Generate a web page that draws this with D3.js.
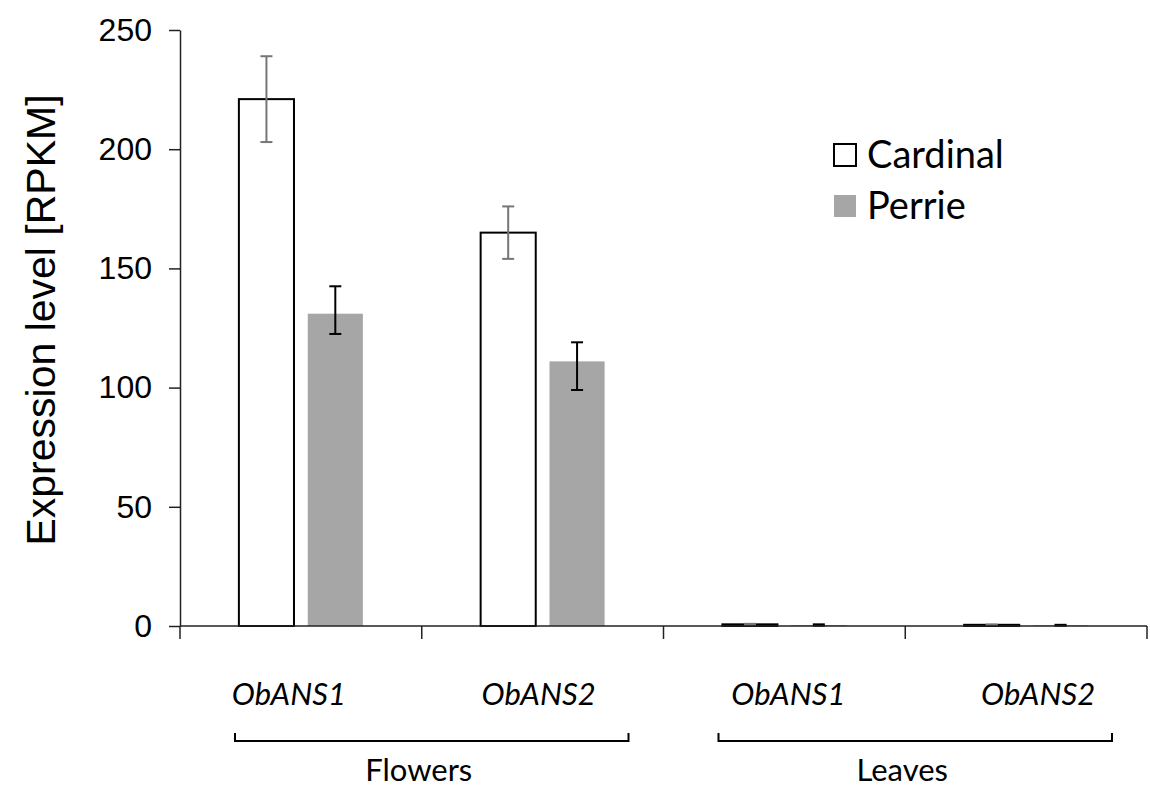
<!DOCTYPE html>
<html>
<head>
<meta charset="utf-8">
<script src="https://cdn.jsdelivr.net/npm/d3@7"></script>
<style>
  body { margin: 0; background: #fff; }
  svg { display: block; }
</style>
</head>
<body>
<div id="chart"></div>
<script>
// data
const genes = ["ObANS1", "ObANS2", "ObANS1", "ObANS2"];
const tissues = ["Flowers", "Leaves"];
const series = ["Cardinal", "Perrie"];
const cardinalValues = [221, 165, 0.7, 0.5];
const cardinalErrUp = [18, 11, 0.2, 0.1];
const cardinalErrDown = [18, 11, 0.2, 0.1];
const perrieValues = [131, 111, 0.4, 0.3];
const perrieErrUp = [11.5, 8, 0.3, 0.2];
const perrieErrDown = [8.5, 12, 0.3, 0.2];
const yTicks = [0, 50, 100, 150, 200, 250];

const width = 1150;
const height = 787;
const margin = { top: 30, right: 3, bottom: 161, left: 180 };

const svg = d3
  .select("#chart")
  .append("svg")
  .attr("width", width)
  .attr("height", height);

const y = d3
  .scaleLinear()
  .domain([0, 250])
  .range([height - margin.bottom, margin.top]);

const x = d3
  .scaleBand()
  .domain(d3.range(genes.length))
  .range([margin.left, width - margin.right]);

const xSub = d3
  .scaleBand()
  .domain(series)
  .range([0, x.bandwidth()])
  .paddingInner(0.2)
  .paddingOuter(0.855);

const color = d3.scaleOrdinal().domain(series).range(["#ffffff", "#a6a6a6"]);
const errColor = d3.scaleOrdinal().domain(series).range(["#767676", "#000000"]);

const rows = genes.map((g, i) => ({
  i: i,
  gene: g,
  vals: [
    { s: "Cardinal", v: cardinalValues[i], up: cardinalErrUp[i], down: cardinalErrDown[i] },
    { s: "Perrie", v: perrieValues[i], up: perrieErrUp[i], down: perrieErrDown[i] },
  ],
}));

// bars
const groups = svg
  .selectAll(".grp")
  .data(rows)
  .enter()
  .append("g")
  .attr("class", "grp")
  .attr("transform", (d) => "translate(" + x(d.i) + ",0)");

groups
  .selectAll("rect")
  .data((d) => d.vals)
  .enter()
  .append("rect")
  .attr("x", (d) => xSub(d.s))
  .attr("width", xSub.bandwidth())
  .attr("y", (d) => y(d.v))
  .attr("height", (d) => y(0) - y(d.v))
  .attr("fill", (d) => color(d.s))
  .attr("stroke", (d) => (d.s === "Cardinal" ? "#000" : "none"))
  .attr("stroke-width", 2);

// error bars
const err = groups
  .selectAll(".err")
  .data((d) => d.vals)
  .enter()
  .append("g")
  .attr("class", "err")
  .attr("stroke", (d) => errColor(d.s))
  .attr("stroke-width", 2)
  .attr("transform", (d) => "translate(" + (xSub(d.s) + xSub.bandwidth() / 2) + ",0)");

err
  .append("line")
  .attr("y1", (d) => y(d.v + d.up))
  .attr("y2", (d) => y(d.v - d.down));
err
  .append("line")
  .attr("x1", -6)
  .attr("x2", 6)
  .attr("y1", (d) => y(d.v + d.up))
  .attr("y2", (d) => y(d.v + d.up));
err
  .append("line")
  .attr("x1", -6)
  .attr("x2", 6)
  .attr("y1", (d) => y(d.v - d.down))
  .attr("y2", (d) => y(d.v - d.down));

// y axis
const yAxis = svg
  .append("g")
  .attr("transform", "translate(" + margin.left + ",0)")
  .call(d3.axisLeft(y).tickValues(yTicks).tickSize(11).tickSizeOuter(0).tickPadding(17));
yAxis.select(".domain").attr("stroke", "#222").attr("stroke-width", 1.5);
yAxis.selectAll(".tick line").attr("stroke", "#222").attr("stroke-width", 1.5);
yAxis
  .selectAll(".tick text")
  .attr("fill", "#000")
  .style("font-family", "'Liberation Sans', Arial, sans-serif")
  .style("font-size", "32px");

// x axis line with ticks at category boundaries
const xBounds = d3.range(genes.length + 1).map((i) => margin.left + i * x.step());
svg
  .append("line")
  .attr("x1", margin.left)
  .attr("x2", width - margin.right)
  .attr("y1", y(0))
  .attr("y2", y(0))
  .attr("stroke", "#222")
  .attr("stroke-width", 1.5);
svg
  .selectAll(".xtick")
  .data(xBounds)
  .enter()
  .append("line")
  .attr("class", "xtick")
  .attr("x1", (d) => d)
  .attr("x2", (d) => d)
  .attr("y1", y(0))
  .attr("y2", y(0) + 13)
  .attr("stroke", "#222")
  .attr("stroke-width", 1.5);

// gene labels
svg
  .selectAll(".gene")
  .data(rows)
  .enter()
  .append("text")
  .attr("class", "gene")
  .attr("x", (d) => x(d.i) + x.bandwidth() / 2 - 12 + d.i * 8)
  .attr("y", 705)
  .attr("text-anchor", "middle")
  .style("font-family", "Lato, 'Open Sans', sans-serif")
  .style("font-style", "italic")
  .style("font-size", "31px")
  .text((d) => d.gene);

// tissue brackets
tissues.forEach((t, k) => {
  const x0 = x(k * 2) + 55;
  const x1 = x(k * 2 + 1) + x.bandwidth() - 35;
  svg
    .append("path")
    .attr("d", "M" + x0 + ",733 V741 H" + x1 + " V733")
    .attr("fill", "none")
    .attr("stroke", "#000")
    .attr("stroke-width", 2);
  svg
    .append("text")
    .attr("x", (x0 + x1) / 2 - 13)
    .attr("y", 781)
    .attr("text-anchor", "middle")
    .style("font-family", "Lato, 'Open Sans', sans-serif")
    .style("font-size", "31px")
    .text(t);
});

// y title
svg
  .append("text")
  .attr("transform", "translate(55,320) rotate(-90)")
  .attr("text-anchor", "middle")
  .style("font-family", "'Liberation Sans', Arial, sans-serif")
  .style("font-size", "41px")
  .text("Expression level [RPKM]");

// legend
const legend = svg
  .selectAll(".legend")
  .data(series)
  .enter()
  .append("g")
  .attr("class", "legend")
  .attr("transform", (d, i) => "translate(833," + (143 + i * 51) + ")");

legend
  .append("rect")
  .attr("x", 1)
  .attr("y", 1)
  .attr("width", 22)
  .attr("height", 22)
  .attr("fill", (d) => color(d))
  .attr("stroke", (d) => (d === "Cardinal" ? "#000" : "none"))
  .attr("stroke-width", 2);

legend
  .append("text")
  .attr("x", 34)
  .attr("y", 25)
  .style("font-family", "Lato, 'Open Sans', sans-serif")
  .style("font-size", "38px")
  .text((d) => d);
</script>
</body>
</html>
